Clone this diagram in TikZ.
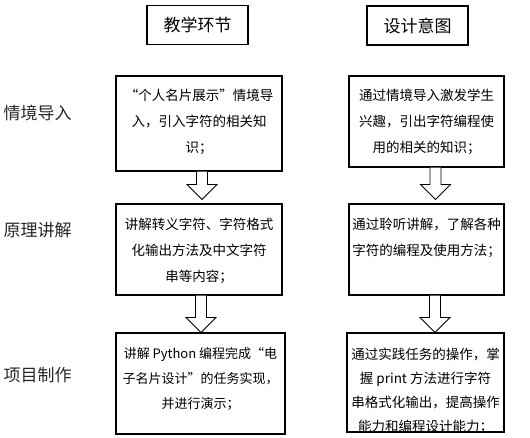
\documentclass[tikz,border=0pt]{standalone}
\usepackage{fontspec}
\setmainfont{Noto Sans CJK SC}
\usetikzlibrary{positioning,calc}

% hollow block arrow: from node, to node, x offset, gap before the next box
\newcommand{\hollowdown}[4]{%
  \draw[hollow] let \p1=($(#1.south)+(#3,0)$), \p2=(#2.north) in
    (\x1-5.5pt,\y1) -- (\x1-5.5pt,\y2+#4+15pt) -- (\x1-15pt,\y2+#4+15pt)
    -- (\x1,\y2+#4) -- (\x1+15pt,\y2+#4+15pt) -- (\x1+5.5pt,\y2+#4+15pt)
    -- (\x1+5.5pt,\y1);
}

\begin{document}
\begin{tikzpicture}[
    x=1pt, y=-1pt,
    bx/.style={draw, line width=1.1pt, inner sep=0pt},
    hd/.style={bx, minimum width=101pt, minimum height=39pt,
               font=\fontsize{17}{20}\selectfont},
    tx/.style={align=center, inner sep=0pt,
               font=\fontsize{13.5}{26}\selectfont},
    lb/.style={text=black!85, font=\fontsize{17}{20}\selectfont},
    hollow/.style={draw, fill=white, line width=0.8pt, line join=miter}
  ]
    \useasboundingbox (0,0) rectangle (530,438);
    % column heads
    \node[hd] (headL) at (197.5,25) {教学环节};
    \node[hd] (headR) at (417.5,25.5) {设计意图};
    % row labels
    \node[lb] (lab1) at (37.5,113) {情境导入};
    \node[lb] (lab2) at (37.5,230) {原理讲解};
    \node[lb] (lab3) at (37.5,375) {项目制作};
    % boxes
    \node[bx, minimum width=166pt, minimum height=95pt] (a1) at (199,123.5) {};
    \node[bx, minimum width=155pt, minimum height=91pt] (b1) at (426.5,121.5) {};
    \node[bx, minimum width=166pt, minimum height=91pt] (a2) at (199,249.5) {};
    \node[bx, minimum width=155pt, minimum height=91pt] (b2) at (426.5,249.5) {};
    \node[bx, minimum width=169pt, minimum height=101pt] (a3) at (200.5,383.5) {};
    \node[bx, minimum width=157pt, minimum height=99pt] (b3) at (425.5,382.5) {};
    % box texts
    \node[tx, below=13pt of a1.north] (a1t)
      {“个人名片展示”情境导\\入，引入字符的相关知\\识；};
    \node[tx, below=13pt of b1.north] (b1t)
      {通过情境导入激发学生\\兴趣，引出字符编程使\\用的相关的知识；};
    \node[tx, below=14pt of a2.north] (a2t)
      {讲解转义字符、字符格式\\化输出方法及中文字符\\串等内容；};
    \node[tx, below=14pt of b2.north] (b2t)
      {通过聆听讲解，了解各种\\字符的编程及使用方法；};
    \node[tx, below=15pt of a3.north, font=\fontsize{13}{25}\selectfont] (a3t)
      {讲解 Python 编程完成“电\\子名片设计”的任务实现，\\并进行演示；};
    \node[tx, below=15pt of b3.north, font=\fontsize{13.5}{24}\selectfont] (b3t)
      {通过实践任务的操作，掌\\握 print 方法进行字符\\串格式化输出，提高操作\\能力和编程设计能力；};
    % arrows
    \hollowdown{a1}{a2}{3}{4pt}
    \hollowdown{b1}{b2}{9}{4pt}
    \hollowdown{a2}{a3}{2}{0pt}
    \hollowdown{b2}{b3}{8.5}{0pt}
  \end{tikzpicture}
\end{document}
